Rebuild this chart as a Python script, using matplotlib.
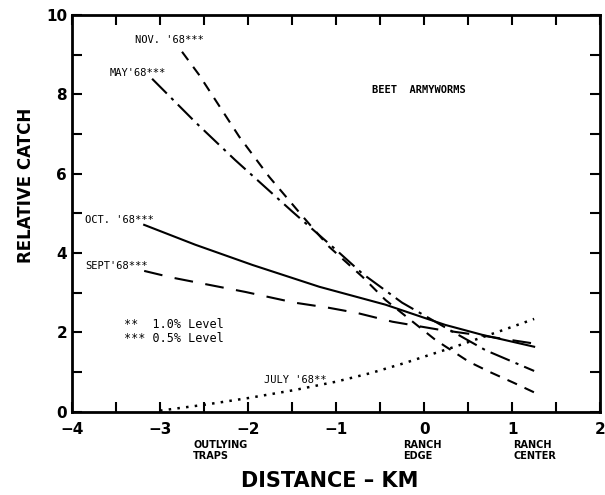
import matplotlib
matplotlib.use("Agg")
import matplotlib.pyplot as plt
from matplotlib.ticker import MultipleLocator

plt.rcParams["font.family"] = ["DejaVu Sans"]

# values (distance in km, relative catch)
nov_x = [-2.75, -2.56, -2.39, -2.1, -1.76, -1.39, -1.08, -0.7, -0.44, 0.13, 0.51, 0.75, 1.02, 1.26]
nov_y = [9.07, 8.5, 7.92, 6.93, 5.92, 4.95, 4.16, 3.4, 2.82, 1.81, 1.26, 1.0, 0.73, 0.48]

may_x = [-3.09, -2.6, -2.15, -1.5, -1.0, -0.7, -0.25, 0.3, 0.7, 1.25]
may_y = [8.39, 7.3, 6.35, 5.05, 4.08, 3.48, 2.75, 2.05, 1.55, 1.03]

oct_x = [-3.18, -2.6, -1.95, -1.19, -0.44, 0.24, 0.66, 1.25]
oct_y = [4.71, 4.21, 3.70, 3.15, 2.70, 2.19, 1.94, 1.64]

sept_x = [-3.18, -2.86, -2.03, -1.47, -1.08, -0.76, -0.36, 0.17, 0.66, 1.25]
sept_y = [3.55, 3.38, 3.02, 2.75, 2.62, 2.49, 2.27, 2.07, 1.92, 1.72]

july_x = [-3.0, -2.49, -1.99, -1.47, -1.0, -0.6, -0.22, 0.07, 0.35, 0.91, 1.25]
july_y = [0.03, 0.18, 0.35, 0.55, 0.76, 0.98, 1.23, 1.44, 1.64, 2.07, 2.34]

x_ticks = [-4, -3, -2, -1, 0, 1, 2]
x_tick_labels = ["\u22124", "\u22123", "\u22122", "\u22121", "0", "1", "2"]
y_ticks = [0, 2, 4, 6, 8, 10]

MONO = "DejaVu Sans Mono"

fig = plt.figure(figsize=(6.05, 4.95), dpi=100)
ax = fig.add_axes([0.119, 0.168, 0.873, 0.802])

ax.plot(nov_x, nov_y, color="black", linewidth=1.5, linestyle=(0, (5, 4)))
ax.plot(may_x, may_y, color="black", linewidth=1.5, linestyle=(0, (10, 3, 1.5, 3)))
ax.plot(oct_x, oct_y, color="black", linewidth=1.5, linestyle="-")
ax.plot(sept_x, sept_y, color="black", linewidth=1.5, linestyle=(0, (9, 6)))
ax.plot(july_x, july_y, color="black", linewidth=1.8, linestyle=(0, (1, 2.5)))

ax.set_xlim(-4, 2)
ax.set_ylim(0, 10)
ax.set_xticks(x_ticks)
ax.set_xticklabels(x_tick_labels, fontsize=11, fontweight="bold")
ax.set_yticks(y_ticks)
ax.set_yticklabels([str(v) for v in y_ticks], fontsize=11, fontweight="bold")
ax.xaxis.set_minor_locator(MultipleLocator(0.5))
ax.yaxis.set_minor_locator(MultipleLocator(1))
ax.tick_params(which="both", direction="in", top=True, right=True, width=1.5, length=7)
ax.tick_params(axis="x", which="major", pad=7)
for s in ax.spines.values():
    s.set_linewidth(2)

# curve labels
ax.text(-3.28, 9.37, "NOV. '68***", family=MONO, fontsize=7.5, va="center")
ax.text(-3.57, 8.54, "MAY'68***", family=MONO, fontsize=7.5, va="center")
ax.text(-3.85, 4.84, "OCT. '68***", family=MONO, fontsize=7.5, va="center")
ax.text(-3.85, 3.68, "SEPT'68***", family=MONO, fontsize=7.5, va="center")
ax.text(-1.82, 0.80, "JULY '68**", family=MONO, fontsize=7.5, va="center")
ax.text(-3.41, 2.19, "**  1.0% Level", family=MONO, fontsize=8.5, va="center")
ax.text(-3.41, 1.84, "*** 0.5% Level", family=MONO, fontsize=8.5, va="center")
ax.text(-0.59, 8.11, "BEET  ARMYWORMS", family=MONO, fontsize=7.5, va="center",
        fontweight="bold")

# location notes under the axis
fig.text(193 / 605, 1 - 440 / 495, "OUTLYING\nTRAPS", fontsize=7, fontweight="bold",
         va="top", ha="left", linespacing=1.1)
fig.text(403 / 605, 1 - 440 / 495, "RANCH\nEDGE", fontsize=7, fontweight="bold",
         va="top", ha="left", linespacing=1.1)
fig.text(513 / 605, 1 - 440 / 495, "RANCH\nCENTER", fontsize=7, fontweight="bold",
         va="top", ha="left", linespacing=1.1)

fig.text(330 / 605, 1 - 481 / 495, "DISTANCE \u2013 KM", fontsize=15, fontweight="bold",
         ha="center", va="center")
fig.text(26 / 605, 1 - 185 / 495, "RELATIVE CATCH", fontsize=12, fontweight="bold",
         ha="center", va="center", rotation=90)

fig.savefig("out.png", dpi=100)
